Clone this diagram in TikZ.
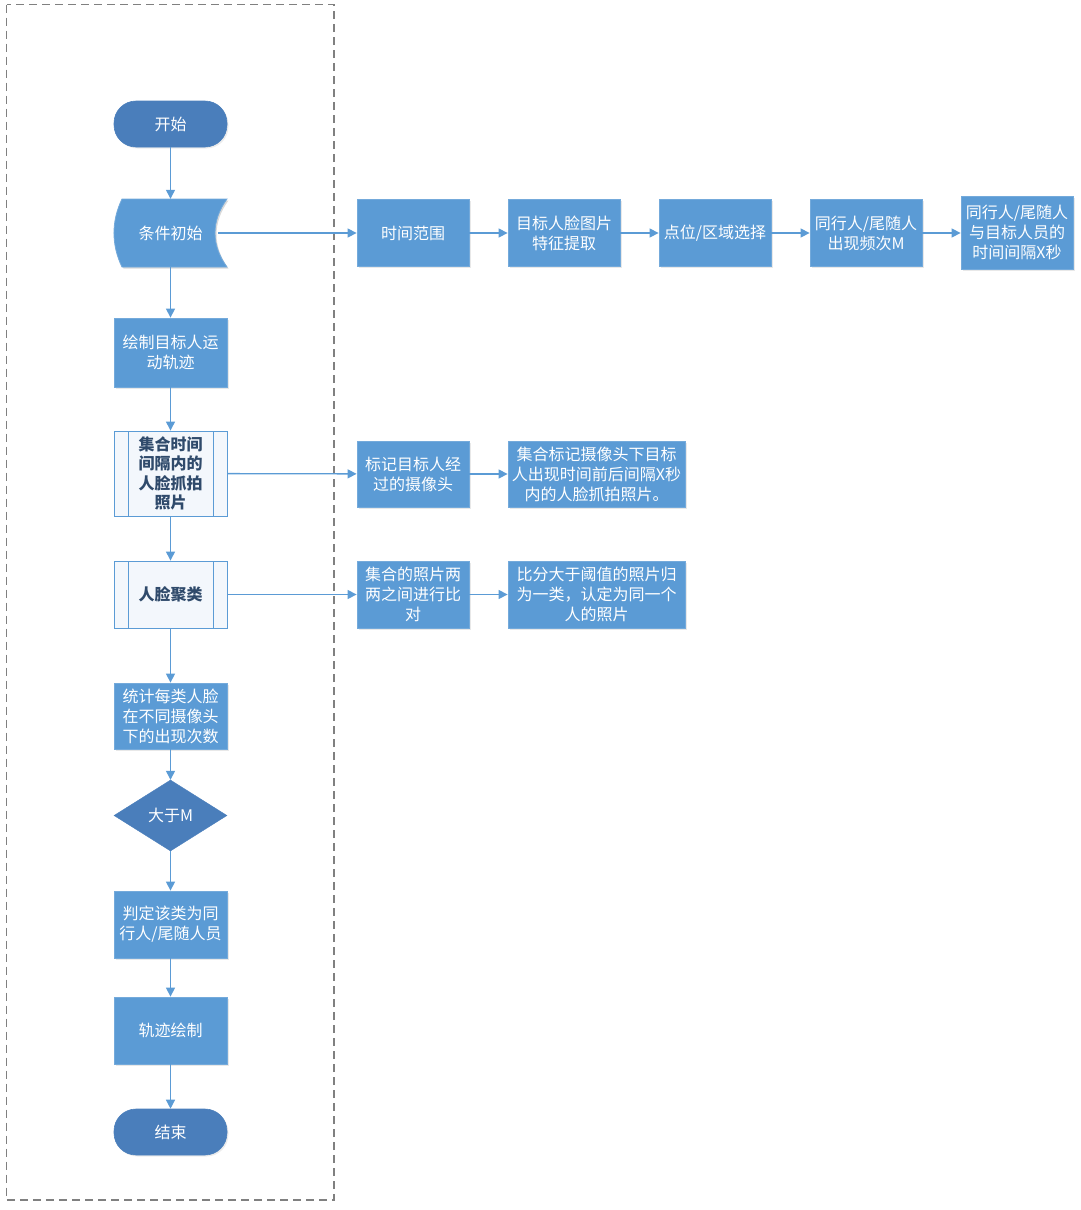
\documentclass[tikz,border=0pt]{standalone}
\usepackage{fontspec}
\setmainfont{Noto Sans CJK SC}
\usetikzlibrary{arrows.meta,shapes.geometric,shadows}
\definecolor{boxblue}{HTML}{5B9BD5}
\definecolor{termblue}{HTML}{4A7EBB}
\definecolor{arrowblue}{HTML}{5B9BD5}
\definecolor{predtext}{HTML}{2F4A6B}
\definecolor{predfill}{HTML}{F3F7FC}
\definecolor{dashgray}{HTML}{808080}
\tikzset{
  base/.style={inner sep=1pt, align=center, font=\fontsize{16}{20}\selectfont, text=white},
  procbox/.style={base, rectangle, fill=boxblue, draw=boxblue!85!white, line width=0.8pt,
    drop shadow={opacity=0.18, shadow xshift=1.5pt, shadow yshift=-1.5pt}},
  termbox/.style={base, rectangle, rounded corners=22pt, fill=termblue, draw=termblue, line width=0.6pt,
    minimum width=113pt, minimum height=46pt,
    drop shadow={opacity=0.15, shadow xshift=1.5pt, shadow yshift=-1.5pt}},
  decbox/.style={base, diamond, aspect=1.59, fill=termblue, draw=termblue, minimum width=113pt, minimum height=71pt, inner sep=0pt},
  predbox/.style={base, rectangle, fill=predfill, draw=boxblue, line width=0.9pt, text=predtext,
    font=\fontsize{16}{19.5}\selectfont\bfseries, minimum width=113pt,
    path picture={
      \draw[boxblue, line width=0.8pt] ([xshift=14pt]path picture bounding box.north west) -- ([xshift=14pt]path picture bounding box.south west);
      \draw[boxblue, line width=0.8pt] ([xshift=-14pt]path picture bounding box.north east) -- ([xshift=-14pt]path picture bounding box.south east);
    }},
  arr/.style={draw=arrowblue, line width=1.3pt, -{Triangle[length=9pt,width=9pt]}},
}
\begin{document}
\begin{tikzpicture}[x=1pt,y=-1pt]
\useasboundingbox (0,0) rectangle (1080,1210);
% swimlane dashed frame
\draw[dashgray, line width=1.2pt, dash pattern=on 8pt off 5pt] (6.5,4.5) rectangle (334,1200);

% main column
\node[termbox] (start) at (170.5,124) {开始};
\node[base, draw=none, minimum width=113pt, minimum height=68pt] (cond) at (170.5,233) {};
\begin{scope}[shift={(1.5,1.5)}]
\fill[black, opacity=0.15] (122,199) -- (227,199)
  .. controls (211,221) and (211,245) .. (227,267)
  -- (122,267)
  .. controls (111.3,245) and (111.3,221) .. cycle;
\end{scope}
\draw[fill=boxblue, draw=boxblue!85!white, line width=0.8pt] (122,199) -- (227,199)
  .. controls (211,221) and (211,245) .. (227,267)
  -- (122,267)
  .. controls (111.3,245) and (111.3,221) .. cycle;
\node[base] at (cond.center) {条件初始};
\node[procbox, minimum width=113pt, minimum height=69pt] (drawt) at (170.5,352.5) {绘制目标人运\\动轨迹};
\node[predbox, minimum height=85pt] (coll) at (170.5,473.5) {集合时间\\间隔内的\\人脸抓拍\\照片};
\node[predbox, minimum height=67pt] (clus) at (170.5,594.5) {人脸聚类};
\node[procbox, minimum width=113pt, minimum height=66pt] (stat) at (170.5,716) {统计每类人脸\\在不同摄像头\\下的出现次数};
\node[decbox] (dec) at (170.5,815.5) {大于M};
\node[procbox, minimum width=113pt, minimum height=67pt] (judge) at (170.5,924.5) {判定该类为同\\行人/尾随人员};
\node[procbox, minimum width=113pt, minimum height=67pt] (track) at (170.5,1030.5) {轨迹绘制};
\node[termbox] (finish) at (170.5,1132) {结束};

% row 1
\node[procbox, minimum width=112pt, minimum height=67pt] (r1) at (413,233) {时间范围};
\node[procbox, minimum width=112pt, minimum height=67pt] (r2) at (564,233) {目标人脸图片\\特征提取};
\node[procbox, minimum width=112pt, minimum height=67pt] (r3) at (715,233) {点位/区域选择};
\node[procbox, minimum width=112pt, minimum height=67pt] (r4) at (866,233) {同行人/尾随人\\出现频次M};
\node[procbox, minimum width=112pt, minimum height=73pt] (r5) at (1017,232.5) {同行人/尾随人\\与目标人员的\\时间间隔X秒};

% row 2
\node[procbox, minimum width=112pt, minimum height=66pt] (m1) at (413,474) {标记目标人经\\过的摄像头};
\node[procbox, minimum width=177pt, minimum height=66pt] (m2) at (596.5,474) {集合标记摄像头下目标\\人出现时间前后间隔X秒\\内的人脸抓拍照片。};

% row 3
\node[procbox, minimum width=112pt, minimum height=67pt] (n1) at (413,594.5) {集合的照片两\\两之间进行比\\对};
\node[procbox, minimum width=177pt, minimum height=67pt] (n2) at (596.5,594.5) {比分大于阈值的照片归\\为一类，认定为同一个\\人的照片};

% vertical connectors
\draw[arr] (start) -- (cond);
\draw[arr] (cond) -- (drawt);
\draw[arr] (drawt) -- (coll);
\draw[arr] (coll) -- (clus);
\draw[arr] (clus) -- (stat);
\draw[arr] (stat) -- (dec);
\draw[arr] (dec) -- (judge);
\draw[arr] (judge) -- (track);
\draw[arr] (track) -- (finish);

% horizontal connectors
\draw[arr] ([xshift=-9pt]cond.east) -- (r1.west);
\draw[arr] (r1) -- (r2);
\draw[arr] (r2) -- (r3);
\draw[arr] (r3) -- (r4);
\draw[arr] (r4.east) -- (r5.west |- r4.east);
\draw[arr] (coll) -- (m1);
\draw[arr] (m1) -- (m2);
\draw[arr] (clus) -- (n1);
\draw[arr] (n1) -- (n2);
\end{tikzpicture}
\end{document}
